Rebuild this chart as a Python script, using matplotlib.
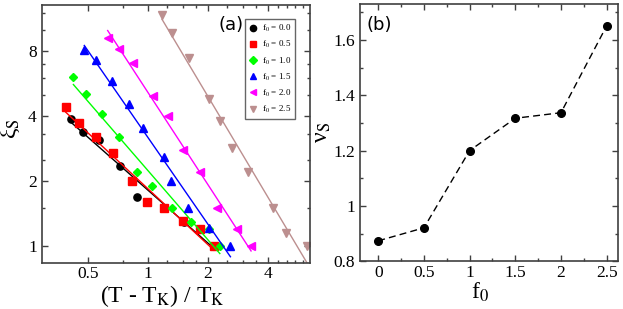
import numpy as np
import matplotlib
matplotlib.use('Agg')
import matplotlib.pyplot as plt
from matplotlib.lines import Line2D

plt.rcParams['font.family'] = ['Liberation Serif', 'DejaVu Serif']
plt.rcParams['mathtext.fontset'] = 'stix'

# ---------------- data: panel (a) ----------------
f0_labels = ['0.0', '0.5', '1.0', '1.5', '2.0', '2.5']
colors = ['black', 'red', '#00ff00', 'blue', '#ff00ff', '#bc8f8f']
markers = ['o', 's', 'D', '^', '<', 'v']
msizes = [5.2, 5.2, 4.4, 5.8, 5.8, 5.8]

t_00 = [0.411, 0.475, 0.570, 0.726, 0.881, 1.207, 1.52, 1.83, 2.15]
xi_00 = [3.87, 3.38, 3.10, 2.35, 1.69, 1.495, 1.296, 1.195, 1.0]
t_05 = [0.388, 0.452, 0.548, 0.672, 0.832, 0.988, 1.207, 1.51, 1.83, 2.15]
xi_05 = [4.40, 3.70, 3.20, 2.70, 2.0, 1.60, 1.495, 1.305, 1.195, 1.0]
t_10 = [0.424, 0.490, 0.588, 0.72, 0.884, 1.055, 1.32, 1.65, 2.03, 2.30]
xi_10 = [6.08, 5.07, 4.09, 3.20, 2.19, 1.90, 1.495, 1.296, 1.195, 1.0]
t_15 = [0.481, 0.550, 0.66, 0.803, 0.951, 1.207, 1.31, 1.60, 2.03, 2.6]
xi_15 = [8.08, 7.27, 5.81, 4.53, 3.51, 2.59, 2.0, 1.50, 1.21, 1.0]
t_20 = [0.63, 0.718, 0.847, 1.06, 1.27, 1.50, 1.82, 2.22, 2.79, 3.30]
xi_20 = [9.22, 8.17, 7.02, 4.97, 3.99, 2.78, 2.19, 1.50, 1.195, 1.0]
t_25 = [1.18, 1.33, 1.61, 2.03, 2.30, 2.66, 3.19, 4.26, 4.92, 6.33]
xi_25 = [11.75, 9.73, 7.45, 4.80, 3.78, 2.85, 2.19, 1.495, 1.145, 1.0]

t_all = [t_00, t_05, t_10, t_15, t_20, t_25]
xi_all = [xi_00, xi_05, xi_10, xi_15, xi_20, xi_25]

# ---------------- data: panel (b) ----------------
f0 = [0, 0.5, 1, 1.5, 2, 2.5]
nu = [0.874, 0.921, 1.200, 1.317, 1.337, 1.651]

fig = plt.figure(figsize=(6.23, 3.09), dpi=100)
ax1 = fig.add_axes([0.0669, 0.1489, 0.4299, 0.835])
ax2 = fig.add_axes([0.5778, 0.1544, 0.4146, 0.8327])

spine_col = '#404040'
for ax in (ax1, ax2):
    for s in ax.spines.values():
        s.set_color(spine_col)
        s.set_linewidth(1.2)
    ax.tick_params(which='both', direction='in', top=True, right=True,
                   color=spine_col, labelsize=12.5)
    ax.tick_params(which='major', length=4.5, width=1)
    ax.tick_params(which='minor', length=2.5, width=1)
    ax.tick_params(axis='x', pad=2.5)

# panel (a): points + power-law fits
for t, xi, c, m, ms in zip(t_all, xi_all, colors, markers, msizes):
    lt, lx = np.log(t), np.log(xi)
    p = np.polyfit(lt, lx, 1)
    tt = np.array([t[0], t[-1]])
    ax1.plot(tt, np.exp(np.polyval(p, np.log(tt))), color=c, lw=1)
    ax1.plot(t, xi, ls='none', marker=m, color=c, ms=ms, mec=c)

ax1.set_xscale('log', base=2)
ax1.set_yscale('log', base=2)
ax1.set_xlim(0.294, 6.48)
ax1.set_ylim(0.834, 13.07)
ax1.set_xticks([0.5, 1, 2, 4])
ax1.set_xticklabels(['0.5', '1', '2', '4'])
ax1.set_xticks([0.75, 1.25, 1.5, 1.75, 2.5, 3, 3.5, 4.5, 5, 5.5, 6], minor=True)
ax1.set_xticklabels([], minor=True)
ax1.set_yticks([1, 2, 4, 8])
ax1.set_yticklabels(['1', '2', '4', '8'])
ax1.set_yticks([1.5, 2.5, 3.3, 5, 6, 7, 10, 12], minor=True)
ax1.set_yticklabels([], minor=True)
ax1.set_xlabel('(T - T$_\\mathrm{K}$) / T$_\\mathrm{K}$', fontsize=17)
ax1.xaxis.set_label_coords(0.449, -0.077)
ax1.set_ylabel('ξ$_\\mathrm{S}$', fontsize=17)
ax1.yaxis.set_label_coords(-0.073, 0.52)
ax1.text(0.706, 0.922, '(a)', transform=ax1.transAxes, fontsize=13,
         family='DejaVu Sans', ha='center', va='center')

handles = [Line2D([], [], ls='none', marker=m, color=c, mec=c, ms=4.5)
           for c, m in zip(colors, markers)]
labels = ['f$_0$ = ' + s for s in f0_labels]
leg = ax1.legend(handles, labels, loc='upper right', bbox_to_anchor=(0.945, 0.946),
                 borderaxespad=0, fontsize=6.5, frameon=True, fancybox=False,
                 handlelength=1.0, handletextpad=0.4, labelspacing=0.55,
                 borderpad=0.45)
leg.get_frame().set_edgecolor(spine_col)
leg.get_frame().set_linewidth(1)

# panel (b)
ax2.plot(f0, nu, color='black', lw=1, ls=(0, (5, 3)), marker='o', ms=5.5)
ax2.set_xlim(-0.2, 2.627)
ax2.set_ylim(0.8, 1.73)
ax2.set_xticks(f0)
ax2.set_xticklabels(['0', '0.5', '1', '1.5', '2', '2.5'])
ax2.set_xticks(np.arange(0.25, 2.5, 0.5), minor=True)
ax2.set_yticks([0.8, 1.0, 1.2, 1.4, 1.6])
ax2.set_yticklabels(['0.8', '1', '1.2', '1.4', '1.6'])
ax2.set_yticks([0.9, 1.1, 1.3, 1.5, 1.7], minor=True)
ax2.set_xlabel('f$_0$', fontsize=17)
ax2.xaxis.set_label_coords(0.465, -0.077)
ax2.set_ylabel('ν$_\\mathrm{S}$', fontsize=17)
ax2.yaxis.set_label_coords(-0.105, 0.5)
ax2.text(0.074, 0.918, '(b)', transform=ax2.transAxes, fontsize=13,
         family='DejaVu Sans', ha='center', va='center')

fig.savefig('out.png', dpi=100)
